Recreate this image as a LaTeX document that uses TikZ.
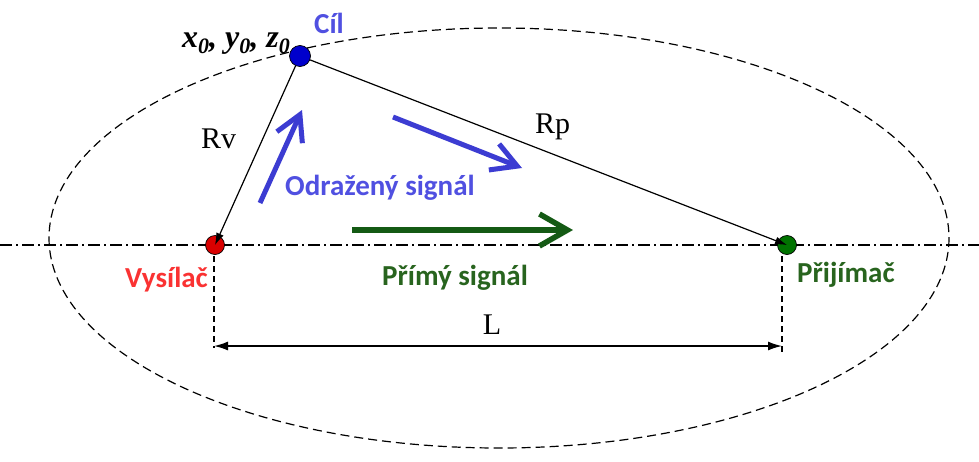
\documentclass[tikz,border=0pt]{standalone}
\usepackage{fontspec}
\setmainfont{Liberation Serif}
\newfontfamily\labfont{Carlito}
\usetikzlibrary{arrows.meta}
\definecolor{tblue}{RGB}{80,80,225}
\definecolor{ablue}{RGB}{60,60,210}
\definecolor{dgreen}{RGB}{20,90,20}
\definecolor{tgreen}{RGB}{40,100,30}
\definecolor{tred}{RGB}{250,50,50}
\newcommand{\zsub}{\raisebox{-6pt}{\fontsize{22}{22}\selectfont 0}}
\begin{document}
\begin{tikzpicture}[x=1pt,y=-1pt,
  dot/.style={circle,draw=black,line width=0.7pt,minimum size=19pt,inner sep=0pt},
  lab/.style={font=\labfont\bfseries\fontsize{29}{29}\selectfont,inner sep=0pt},
  ser/.style={font=\fontsize{30}{30}\selectfont,inner sep=0pt},
  conn/.style={line width=1.2pt,-{Latex[length=12pt,width=8pt]}},
  gsig/.style={line width=5.5pt,-{Straight Barb[length=28pt,width=32pt]}},
  bsig/.style={line width=5pt,-{Straight Barb[length=25pt,width=28pt]}},
  guide/.style={line width=1.1pt,dash pattern=on 6pt off 4pt}]
\useasboundingbox (0,0) rectangle (979,461);
\fill[white] (0,0) rectangle (979,461);
% ellipse and axis
\draw[line width=1.2pt,dash pattern=on 9pt off 5pt] (499,238) ellipse [x radius=450, y radius=210];
\coordinate (axl) at (0,245);
\coordinate (axr) at (979,245);
\draw[line width=1.1pt,dash pattern=on 12pt off 4pt on 2pt off 4pt] (axl) -- (axr);
% points
\node[dot,fill=red!85!black] (tx) at (215,245) {};
\node[dot,fill=green!45!black] (rx) at (787,245) {};
\node[dot,fill=blue!80!black,minimum size=21pt] (tg) at (300,56) {};
% connectors
\draw[conn] (tg) -- (tx.center);
\draw[conn] (tg) -- (rx.center);
% signal arrows
\coordinate (b1s) at (260,203);
\coordinate (b1e) at (302,110);
\coordinate (b2s) at (393,117);
\coordinate (b2e) at (522,168);
\draw[bsig,ablue] (b1s) -- (b1e);
\draw[bsig,ablue] (b2s) -- (b2e);
\coordinate (g1s) at (352,230);
\coordinate (g1e) at (573,230);
\draw[gsig,dgreen] (g1s) -- (g1e);
% dimension
\coordinate (d1t) at (214,256);
\coordinate (d1b) at (214,348);
\coordinate (d2t) at (782,256);
\coordinate (d2b) at (782,352);
\draw[guide] (d1t) -- (d1b);
\draw[guide] (d2t) -- (d2b);
\coordinate (la) at (214,346);
\coordinate (lb) at (782,346);
\draw[line width=1.5pt,{Latex[length=14pt,width=9pt]}-{Latex[length=14pt,width=9pt]}] (la) -- (lb);
% labels
\node[ser,anchor=base] (Lt) at (492,334) {L};
\node[ser,anchor=base west] (rvt) at (201,148) {Rv};
\node[ser,anchor=base west] (rpt) at (535,133) {Rp};
\node[inner sep=0pt,anchor=base west,font=\bfseries\itshape\fontsize{32}{32}\selectfont] (xyz) at (182,47) {x\zsub, y\zsub, z\zsub};
\node[lab,text=tblue,anchor=base west] (cil) at (314,33) {Cíl};
\node[lab,text=tblue,anchor=base west] (odr) at (285,195) {Odražený signál};
\node[lab,text=tred,anchor=base east] (vys) at (208,287) {Vysílač};
\node[lab,text=tgreen,anchor=base west] (pri) at (382,285) {Přímý signál};
\node[lab,text=tgreen,anchor=base west] (prj) at (797,282) {Přijímač};
\end{tikzpicture}
\end{document}
